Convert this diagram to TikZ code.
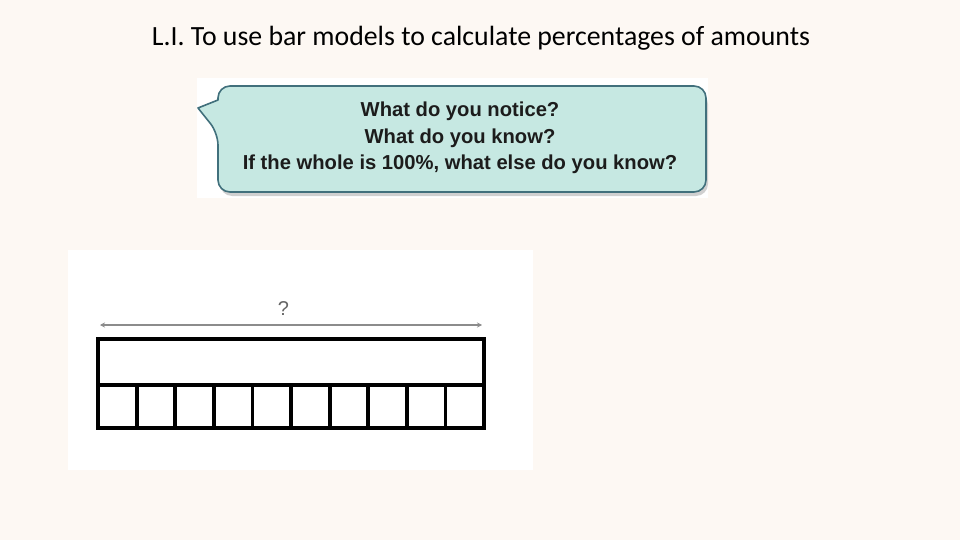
\documentclass[tikz,border=0pt]{standalone}
\usepackage{fontspec}
\setmainfont{Carlito}
\newfontfamily\bubblefont{Liberation Sans}
\usetikzlibrary{arrows.meta, calc, positioning}
\definecolor{slidebg}{HTML}{FDF8F3}
\definecolor{bubblefill}{HTML}{C6E8E2}
\definecolor{bubbleline}{HTML}{41707C}
\definecolor{bubbletext}{HTML}{1C1C1C}
\tikzstyle{bubble} = [fill=bubblefill, draw=bubbleline, line width=1.6pt, line join=round]
\tikzstyle{bar} = [rectangle, draw=black, line width=3.8pt, outer sep=0pt, inner sep=0pt, minimum width=386pt, minimum height=46pt]
\tikzstyle{cell} = [rectangle, draw=black, line width=3.8pt, outer sep=0pt, inner sep=0pt, minimum width=38.6pt, minimum height=43pt]
\tikzstyle{arrow} = [draw=black!45, line width=1.2pt, {Stealth[length=5pt,width=5pt]}-{Stealth[length=5pt,width=5pt]}]

\begin{document}
\begin{tikzpicture}[x=1pt, y=-1pt]
		\fill[slidebg] (0,0) rectangle (960,540);
		\useasboundingbox (0,0) rectangle (960,540);
		\node (Title) at (481,38) {\fontsize{27.8}{32}\selectfont L.I. To use bar models to calculate percentages of amounts};
		% speech bubble picture
		\fill[white] (197,78) rectangle (708,198);
		\fill[black!30, opacity=0.6, rounded corners=12pt] (220,92) -- (708,92) -- (708,196) -- (220,196) -- cycle;
		\draw[bubble, rounded corners=12pt] (218,100) -- (218,86) -- (706,86) -- (706,192) -- (218,192) -- (218,133) [sharp corners] -- (198,108) -- cycle;
		\node (Questions) [align=center, text=bubbletext, font=\bubblefont\bfseries\fontsize{20.2}{26.5}\selectfont] at (460,138) {What do you notice?\\What do you know?\\If the whole is 100\%, what else do you know?};
		% bar model picture
		\fill[white] (68,250) rectangle (533,470);
		\node (Whole) [bar, anchor=north west] at (98,339) {};
		\node (Cell0) [cell, anchor=north west] at (Whole.south west) {};
		\foreach \i [count=\j from 0] in {1,...,9}
			\node (Cell\i) [cell, right=0pt of Cell\j] {};
		\coordinate (ArrowL) at (100,325);
		\coordinate (ArrowR) at (482,325);
		\draw [arrow] (ArrowL) -- (ArrowR);
		\node (Unknown) [above = 6pt of $(ArrowL)!0.48!(ArrowR)$, text=black!60, font=\bubblefont\fontsize{20}{24}\selectfont] {?};
\end{tikzpicture}
\end{document}
